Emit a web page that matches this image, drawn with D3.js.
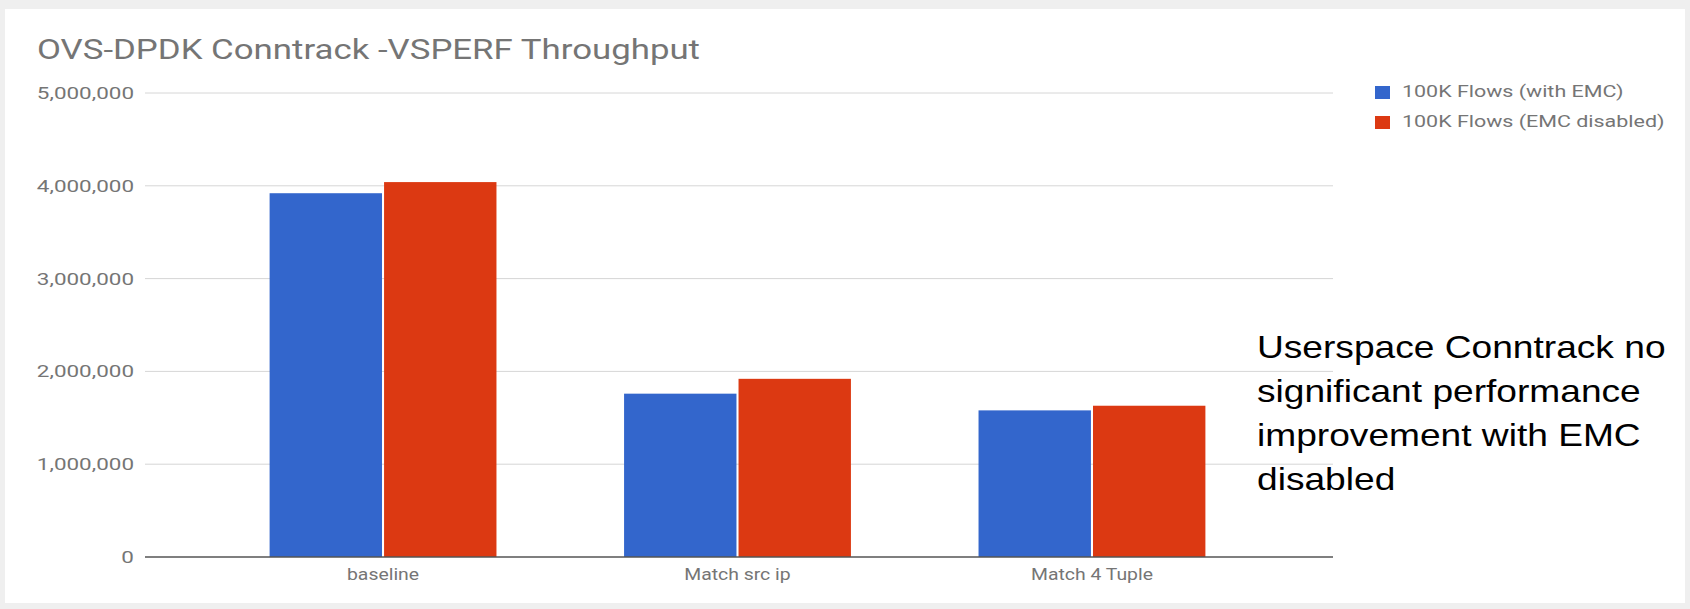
<!DOCTYPE html>
<html>
<head>
<meta charset="utf-8">
<script src="https://cdn.jsdelivr.net/npm/d3@7"></script>
<style>
  body { margin: 0; background: #efefef; }
  svg { display: block; }
</style>
</head>
<body>
<svg width="1690" height="609"></svg>
<script>
var categories = ["baseline", "Match src ip", "Match 4 Tuple"];
var seriesNames = ["100K Flows (with EMC)", "100K Flows (EMC disabled)"];
var withEmc = [3920000, 1760000, 1580000];
var emcDisabled = [4040000, 1920000, 1630000];
var yTicks = [0, 1000000, 2000000, 3000000, 4000000, 5000000];
var title = "OVS-DPDK Conntrack -VSPERF Throughput";
var note = ["Userspace Conntrack no", "significant performance", "improvement with EMC", "disabled"];

var data = categories.map(function(c, i) {
  return {category: c, values: [withEmc[i], emcDisabled[i]]};
});

var svg = d3.select("svg"),
    width = +svg.attr("width"),
    height = +svg.attr("height");

var colors = d3.scaleOrdinal().domain(seriesNames).range(["#3366cc", "#dc3912"]);
var grey = "#757575";

// the source picture is wider than normal fonts, so stretch text to match
function stretch(sel, k) {
  sel.each(function() {
    var w = this.getComputedTextLength();
    d3.select(this).attr("textLength", w * k).attr("lengthAdjust", "spacingAndGlyphs");
  });
}

svg.append("rect")
    .attr("x", 5).attr("y", 9)
    .attr("width", width - 10).attr("height", height - 15)
    .attr("fill", "#fff");

var plot = {left: 145, right: 1333};

var x = d3.scaleBand()
    .domain(categories)
    .range([142, plot.right])
    .padding(0.36);

var x1 = d3.scaleBand()
    .domain(seriesNames)
    .range([0, x.bandwidth()])
    .paddingInner(0.018);

var y = d3.scaleLinear()
    .domain([0, 5000000])
    .range([557, 93]);

// gridlines
svg.append("g")
  .selectAll("line")
  .data(yTicks.filter(function(d) { return d > 0; }))
  .enter().append("line")
    .attr("x1", plot.left).attr("x2", plot.right)
    .attr("y1", function(d) { return y(d); })
    .attr("y2", function(d) { return y(d); })
    .attr("stroke", "#d6d6d6")
    .attr("stroke-width", 1);

// y labels
svg.append("g")
  .selectAll("text")
  .data(yTicks)
  .enter().append("text")
    .attr("x", 134)
    .attr("y", function(d) { return y(d); })
    .attr("dy", "0.35em")
    .attr("text-anchor", "end")
    .attr("fill", grey)
    .style("font", "17px Roboto")
    .text(function(d) { return d3.format(",")(d); })
    .call(stretch, 1.32);

// bars
svg.append("g")
  .selectAll("g")
  .data(data)
  .enter().append("g")
    .attr("transform", function(d) { return "translate(" + x(d.category) + ",0)"; })
  .selectAll("rect")
  .data(function(d) { return d.values.map(function(v, i) { return {key: seriesNames[i], value: v}; }); })
  .enter().append("rect")
    .attr("x", function(d) { return x1(d.key); })
    .attr("y", function(d) { return y(d.value); })
    .attr("width", x1.bandwidth())
    .attr("height", function(d) { return y(0) - y(d.value); })
    .attr("fill", function(d) { return colors(d.key); });

// baseline
svg.append("line")
    .attr("x1", plot.left).attr("x2", plot.right)
    .attr("y1", y(0)).attr("y2", y(0))
    .attr("stroke", "#555")
    .attr("stroke-width", 1.5);

// x labels
svg.append("g")
  .selectAll("text")
  .data(categories)
  .enter().append("text")
    .attr("x", function(d) { return x(d) + x.bandwidth() / 2; })
    .attr("y", 580)
    .attr("text-anchor", "middle")
    .attr("fill", grey)
    .style("font", "17px Roboto")
    .text(function(d) { return d; })
    .call(stretch, 1.14);

// title
svg.append("text")
    .attr("x", 37)
    .attr("y", 59)
    .attr("fill", grey)
    .style("font", "27px Roboto")
    .text(title)
    .attr("textLength", 663)
    .attr("lengthAdjust", "spacingAndGlyphs");

// legend
var legend = svg.append("g")
  .selectAll("g")
  .data(seriesNames)
  .enter().append("g")
    .attr("transform", function(d, i) { return "translate(1375," + (86 + i * 30) + ")"; });

legend.append("rect")
    .attr("width", 15)
    .attr("height", 13)
    .attr("fill", function(d) { return colors(d); });

legend.append("text")
    .attr("x", 27)
    .attr("y", 11)
    .attr("fill", grey)
    .style("font", "16px Roboto")
    .text(function(d) { return d; })
    .call(stretch, 1.34);

// annotation
svg.append("g")
  .selectAll("text")
  .data(note)
  .enter().append("text")
    .attr("x", 1257)
    .attr("y", function(d, i) { return 358 + i * 44; })
    .attr("fill", "#000")
    .style("font", "32px 'Liberation Sans', Arial, sans-serif")
    .text(function(d) { return d; })
    .call(stretch, 1.16);
</script>
</body>
</html>
